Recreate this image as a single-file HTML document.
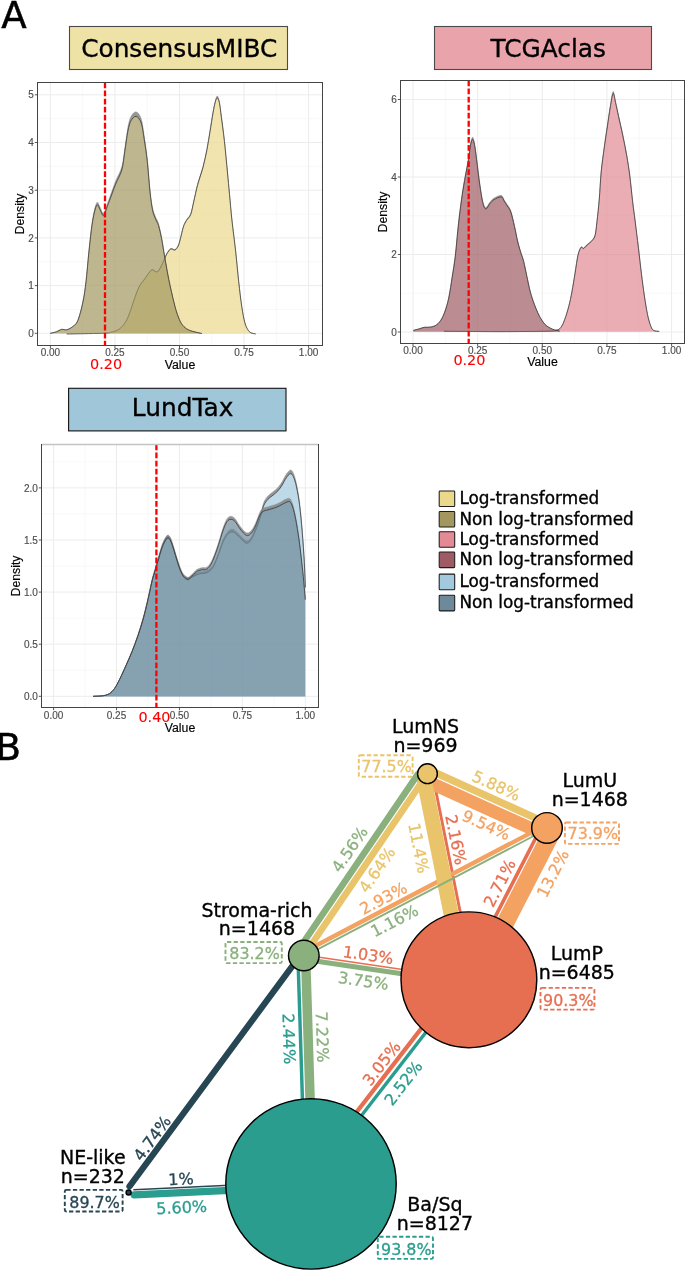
<!DOCTYPE html>
<html lang="en">
<head>
<meta charset="utf-8">
<title>Figure: classifier score densities and subtype network</title>
<style>
html,body{margin:0;padding:0;background:#fff;}
body{width:685px;height:1270px;overflow:hidden;}
svg{display:block;}
</style>
</head>
<body>
<svg width="685" height="1270" viewBox="0 0 685 1270">
<rect x="0" y="0" width="685" height="1270" fill="#fff"/>
<rect x="37.5" y="82.5" width="285" height="263" fill="#fff"/>
<line x1="82.67" y1="82.5" x2="82.67" y2="345.5" stroke="#f3f3f3" stroke-width="0.6"/>
<line x1="147.22" y1="82.5" x2="147.22" y2="345.5" stroke="#f3f3f3" stroke-width="0.6"/>
<line x1="211.78" y1="82.5" x2="211.78" y2="345.5" stroke="#f3f3f3" stroke-width="0.6"/>
<line x1="276.32" y1="82.5" x2="276.32" y2="345.5" stroke="#f3f3f3" stroke-width="0.6"/>
<line x1="50.4" y1="82.5" x2="50.4" y2="345.5" stroke="#ececec" stroke-width="1"/>
<line x1="114.95" y1="82.5" x2="114.95" y2="345.5" stroke="#ececec" stroke-width="1"/>
<line x1="179.5" y1="82.5" x2="179.5" y2="345.5" stroke="#ececec" stroke-width="1"/>
<line x1="244.05" y1="82.5" x2="244.05" y2="345.5" stroke="#ececec" stroke-width="1"/>
<line x1="308.6" y1="82.5" x2="308.6" y2="345.5" stroke="#ececec" stroke-width="1"/>
<line x1="37.5" y1="309.45" x2="322.5" y2="309.45" stroke="#f3f3f3" stroke-width="0.6"/>
<line x1="37.5" y1="261.75" x2="322.5" y2="261.75" stroke="#f3f3f3" stroke-width="0.6"/>
<line x1="37.5" y1="214.05" x2="322.5" y2="214.05" stroke="#f3f3f3" stroke-width="0.6"/>
<line x1="37.5" y1="166.35" x2="322.5" y2="166.35" stroke="#f3f3f3" stroke-width="0.6"/>
<line x1="37.5" y1="118.65" x2="322.5" y2="118.65" stroke="#f3f3f3" stroke-width="0.6"/>
<line x1="37.5" y1="333.3" x2="322.5" y2="333.3" stroke="#ececec" stroke-width="1"/>
<line x1="37.5" y1="285.6" x2="322.5" y2="285.6" stroke="#ececec" stroke-width="1"/>
<line x1="37.5" y1="237.9" x2="322.5" y2="237.9" stroke="#ececec" stroke-width="1"/>
<line x1="37.5" y1="190.2" x2="322.5" y2="190.2" stroke="#ececec" stroke-width="1"/>
<line x1="37.5" y1="142.5" x2="322.5" y2="142.5" stroke="#ececec" stroke-width="1"/>
<line x1="37.5" y1="94.8" x2="322.5" y2="94.8" stroke="#ececec" stroke-width="1"/>
<path d="M66.6,333.9C72.38,333.8 93.82,333.58 101.3,333.3C108.78,333.01 108.43,332.94 111.5,332.19C114.57,331.43 117.32,330.54 119.7,328.76C122.08,326.98 124.1,324.26 125.8,321.5C127.5,318.75 128.53,315.84 129.9,312.23C131.27,308.62 132.47,304.12 134,299.83C135.53,295.55 137.4,289.95 139.1,286.53C140.8,283.1 142.5,281.67 144.2,279.27C145.9,276.87 147.93,273.76 149.3,272.11C150.67,270.47 151.03,269.51 152.4,269.39C153.77,269.27 155.8,272.5 157.5,271.41C159.2,270.31 161.07,265.81 162.6,262.84C164.13,259.86 165.33,255.98 166.7,253.56C168.07,251.15 169.43,249.01 170.8,248.32C172.17,247.63 173.67,249.94 174.9,249.43C176.13,248.93 177.28,247.2 178.2,245.3C179.12,243.4 179.52,241.3 180.4,238.04C181.28,234.78 182.47,228.84 183.5,225.74C184.53,222.65 185.4,221.53 186.6,219.49C187.8,217.46 189.52,216.64 190.7,213.55C191.88,210.46 192.52,206.04 193.7,200.95C194.88,195.86 196.27,188.73 197.8,183C199.33,177.28 201.37,172.4 202.9,166.57C204.43,160.74 205.8,154.21 207,148.03C208.2,141.84 209.08,135.66 210.1,129.48C211.12,123.3 212.25,115.74 213.1,110.93C213.95,106.13 214.52,103.12 215.2,100.65C215.88,98.18 216.52,96.12 217.2,96.12C217.88,96.12 218.62,97.49 219.3,100.65C219.98,103.81 220.45,108.55 221.3,115.07C222.15,121.58 223.38,130.49 224.4,139.76C225.42,149.04 226.55,161.77 227.4,170.71C228.25,179.64 228.75,185.32 229.5,193.39C230.25,201.45 230.88,209.58 231.9,219.09C232.92,228.6 234.47,240.06 235.6,250.44C236.73,260.82 237.68,272.11 238.7,281.39C239.72,290.66 240.68,299.23 241.7,306.08C242.72,312.94 243.77,318.56 244.8,322.51C245.83,326.46 246.88,328.06 247.9,329.77C248.92,331.48 249.62,332.11 250.9,332.79C252.18,333.48 254.82,333.72 255.6,333.9L255.6,333.9C254.82,333.72 252.18,333.48 250.9,332.8C249.62,332.12 248.92,331.5 247.9,329.8C246.88,328.1 245.83,326.52 244.8,322.6C243.77,318.68 242.72,313.1 241.7,306.3C240.68,299.5 239.72,291 238.7,281.8C237.68,272.6 236.73,261.4 235.6,251.1C234.47,240.8 232.92,229.43 231.9,220C230.88,210.57 230.25,202.5 229.5,194.5C228.75,186.5 228.25,180.87 227.4,172C226.55,163.13 225.42,150.5 224.4,141.3C223.38,132.1 222.15,123.27 221.3,116.8C220.45,110.33 219.98,105.63 219.3,102.5C218.62,99.37 217.88,98 217.2,98C216.52,98 215.88,100.05 215.2,102.5C214.52,104.95 213.95,107.93 213.1,112.7C212.25,117.47 211.12,124.97 210.1,131.1C209.08,137.23 208.2,143.37 207,149.5C205.8,155.63 204.43,162.12 202.9,167.9C201.37,173.68 199.33,178.52 197.8,184.2C196.27,189.88 194.88,196.95 193.7,202C192.52,207.05 191.88,211.43 190.7,214.5C189.52,217.57 187.8,218.38 186.6,220.4C185.4,222.42 184.53,223.53 183.5,226.6C182.47,229.67 181.28,235.57 180.4,238.8C179.52,242.03 179.12,244.12 178.2,246C177.28,247.88 176.13,249.6 174.9,250.1C173.67,250.6 172.17,248.32 170.8,249C169.43,249.68 168.07,251.8 166.7,254.2C165.33,256.6 164.13,260.45 162.6,263.4C161.07,266.35 159.2,270.82 157.5,271.9C155.8,272.98 153.77,269.78 152.4,269.9C151.03,270.02 150.67,270.97 149.3,272.6C147.93,274.23 145.9,277.32 144.2,279.7C142.5,282.08 140.8,283.5 139.1,286.9C137.4,290.3 135.53,295.85 134,300.1C132.47,304.35 131.27,308.82 129.9,312.4C128.53,315.98 127.5,318.87 125.8,321.6C124.1,324.33 122.08,327.03 119.7,328.8C117.32,330.57 114.57,331.45 111.5,332.2C108.43,332.95 108.78,333.02 101.3,333.3C93.82,333.58 72.38,333.8 66.6,333.9Z" fill="#858585" fill-opacity="0.85" stroke="#858585" stroke-opacity="0.5" stroke-width="0.6"/>
<path d="M66.6,333.9C72.38,333.8 93.82,333.58 101.3,333.3C108.78,333.02 108.43,332.95 111.5,332.2C114.57,331.45 117.32,330.57 119.7,328.8C122.08,327.03 124.1,324.33 125.8,321.6C127.5,318.87 128.53,315.98 129.9,312.4C131.27,308.82 132.47,304.35 134,300.1C135.53,295.85 137.4,290.3 139.1,286.9C140.8,283.5 142.5,282.08 144.2,279.7C145.9,277.32 147.93,274.23 149.3,272.6C150.67,270.97 151.03,270.02 152.4,269.9C153.77,269.78 155.8,272.98 157.5,271.9C159.2,270.82 161.07,266.35 162.6,263.4C164.13,260.45 165.33,256.6 166.7,254.2C168.07,251.8 169.43,249.68 170.8,249C172.17,248.32 173.67,250.6 174.9,250.1C176.13,249.6 177.28,247.88 178.2,246C179.12,244.12 179.52,242.03 180.4,238.8C181.28,235.57 182.47,229.67 183.5,226.6C184.53,223.53 185.4,222.42 186.6,220.4C187.8,218.38 189.52,217.57 190.7,214.5C191.88,211.43 192.52,207.05 193.7,202C194.88,196.95 196.27,189.88 197.8,184.2C199.33,178.52 201.37,173.68 202.9,167.9C204.43,162.12 205.8,155.63 207,149.5C208.2,143.37 209.08,137.23 210.1,131.1C211.12,124.97 212.25,117.47 213.1,112.7C213.95,107.93 214.52,104.95 215.2,102.5C215.88,100.05 216.52,98 217.2,98C217.88,98 218.62,99.37 219.3,102.5C219.98,105.63 220.45,110.33 221.3,116.8C222.15,123.27 223.38,132.1 224.4,141.3C225.42,150.5 226.55,163.13 227.4,172C228.25,180.87 228.75,186.5 229.5,194.5C230.25,202.5 230.88,210.57 231.9,220C232.92,229.43 234.47,240.8 235.6,251.1C236.73,261.4 237.68,272.6 238.7,281.8C239.72,291 240.68,299.5 241.7,306.3C242.72,313.1 243.77,318.68 244.8,322.6C245.83,326.52 246.88,328.1 247.9,329.8C248.92,331.5 249.62,332.12 250.9,332.8C252.18,333.48 254.82,333.72 255.6,333.9L255.6,333.6 L66.6,333.6 Z" fill="#ebd98b" fill-opacity="0.7" stroke="none"/>
<path d="M66.6,333.9C72.38,333.8 93.82,333.58 101.3,333.3C108.78,333.02 108.43,332.95 111.5,332.2C114.57,331.45 117.32,330.57 119.7,328.8C122.08,327.03 124.1,324.33 125.8,321.6C127.5,318.87 128.53,315.98 129.9,312.4C131.27,308.82 132.47,304.35 134,300.1C135.53,295.85 137.4,290.3 139.1,286.9C140.8,283.5 142.5,282.08 144.2,279.7C145.9,277.32 147.93,274.23 149.3,272.6C150.67,270.97 151.03,270.02 152.4,269.9C153.77,269.78 155.8,272.98 157.5,271.9C159.2,270.82 161.07,266.35 162.6,263.4C164.13,260.45 165.33,256.6 166.7,254.2C168.07,251.8 169.43,249.68 170.8,249C172.17,248.32 173.67,250.6 174.9,250.1C176.13,249.6 177.28,247.88 178.2,246C179.12,244.12 179.52,242.03 180.4,238.8C181.28,235.57 182.47,229.67 183.5,226.6C184.53,223.53 185.4,222.42 186.6,220.4C187.8,218.38 189.52,217.57 190.7,214.5C191.88,211.43 192.52,207.05 193.7,202C194.88,196.95 196.27,189.88 197.8,184.2C199.33,178.52 201.37,173.68 202.9,167.9C204.43,162.12 205.8,155.63 207,149.5C208.2,143.37 209.08,137.23 210.1,131.1C211.12,124.97 212.25,117.47 213.1,112.7C213.95,107.93 214.52,104.95 215.2,102.5C215.88,100.05 216.52,98 217.2,98C217.88,98 218.62,99.37 219.3,102.5C219.98,105.63 220.45,110.33 221.3,116.8C222.15,123.27 223.38,132.1 224.4,141.3C225.42,150.5 226.55,163.13 227.4,172C228.25,180.87 228.75,186.5 229.5,194.5C230.25,202.5 230.88,210.57 231.9,220C232.92,229.43 234.47,240.8 235.6,251.1C236.73,261.4 237.68,272.6 238.7,281.8C239.72,291 240.68,299.5 241.7,306.3C242.72,313.1 243.77,318.68 244.8,322.6C245.83,326.52 246.88,328.1 247.9,329.8C248.92,331.5 249.62,332.12 250.9,332.8C252.18,333.48 254.82,333.72 255.6,333.9" fill="none" stroke="#2a2a2a" stroke-opacity="1.0" stroke-width="0.7" stroke-linejoin="round"/>
<path d="M50.2,333.29C51.23,333.04 54.52,332.43 56.4,331.76C58.28,331.1 59.8,329.65 61.5,329.31C63.2,328.97 64.73,330.18 66.6,329.72C68.47,329.26 70.83,328.12 72.7,326.56C74.57,324.99 76.1,324.5 77.8,320.33C79.5,316.16 81.53,308.14 82.9,301.54C84.27,294.94 84.98,289.41 86,280.71C87.02,272.02 87.98,259.12 89,249.37C90.02,239.62 91.07,229.34 92.1,222.21C93.13,215.08 94.28,209.92 95.2,206.59C96.12,203.25 96.75,202.03 97.6,202.2C98.45,202.37 99.3,205.79 100.3,207.61C101.3,209.43 102.42,213.82 103.6,213.12C104.78,212.42 106.42,205.97 107.4,203.42C108.38,200.87 108.13,201.53 109.5,197.81C110.87,194.08 113.55,186.29 115.6,181.06C117.65,175.84 120.27,172.03 121.8,166.46C123.33,160.9 123.78,154.28 124.8,147.68C125.82,141.07 126.88,132.05 127.9,126.85C128.92,121.64 129.53,118.93 130.9,116.43C132.27,113.93 134.38,111.5 136.1,111.84C137.82,112.18 139.85,114.58 141.2,118.48C142.55,122.37 143.18,128.62 144.2,135.22C145.22,141.82 146.33,149.12 147.3,158.09C148.27,167.06 149.12,180.74 150,189.03C150.88,197.31 151.63,203.12 152.6,207.81C153.57,212.51 154.82,214.64 155.8,217.21C156.78,219.78 157.53,219.96 158.5,223.23C159.47,226.5 160.57,231.41 161.6,236.81C162.63,242.2 163.5,248.64 164.7,255.6C165.9,262.56 167.27,270.91 168.8,278.57C170.33,286.23 172.47,295.62 173.9,301.54C175.33,307.46 176.13,310.44 177.4,314.1C178.67,317.76 179.97,321.06 181.5,323.49C183.03,325.93 184.73,327.39 186.6,328.7C188.47,330.01 190.15,330.55 192.7,331.35C195.25,332.15 200.37,333.14 201.9,333.5L201.9,333.5C200.37,333.15 195.25,332.18 192.7,331.4C190.15,330.62 188.47,330.08 186.6,328.8C184.73,327.52 183.03,326.08 181.5,323.7C179.97,321.32 178.67,318.08 177.4,314.5C176.13,310.92 175.33,308 173.9,302.2C172.47,296.4 170.33,287.2 168.8,279.7C167.27,272.2 165.9,264.02 164.7,257.2C163.5,250.38 162.63,244.08 161.6,238.8C160.57,233.52 159.47,228.7 158.5,225.5C157.53,222.3 156.78,222.12 155.8,219.6C154.82,217.08 153.57,215 152.6,210.4C151.63,205.8 150.88,200.12 150,192C149.12,183.88 148.27,170.48 147.3,161.7C146.33,152.92 145.22,145.77 144.2,139.3C143.18,132.83 142.55,126.72 141.2,122.9C139.85,119.08 137.82,116.73 136.1,116.4C134.38,116.07 132.27,118.45 130.9,120.9C129.53,123.35 128.92,126 127.9,131.1C126.88,136.2 125.82,145.03 124.8,151.5C123.78,157.97 123.33,164.45 121.8,169.9C120.27,175.35 117.65,179.08 115.6,184.2C113.55,189.32 110.87,196.95 109.5,200.6C108.13,204.25 108.38,203.6 107.4,206.1C106.42,208.6 104.78,214.92 103.6,215.6C102.42,216.28 101.3,211.98 100.3,210.2C99.3,208.42 98.45,205.07 97.6,204.9C96.75,204.73 96.12,205.93 95.2,209.2C94.28,212.47 93.13,217.52 92.1,224.5C91.07,231.48 90.02,241.55 89,251.1C87.98,260.65 87.02,273.28 86,281.8C84.98,290.32 84.27,295.73 82.9,302.2C81.53,308.67 79.5,316.52 77.8,320.6C76.1,324.68 74.57,325.17 72.7,326.7C70.83,328.23 68.47,329.35 66.6,329.8C64.73,330.25 63.2,329.07 61.5,329.4C59.8,329.73 58.28,331.15 56.4,331.8C54.52,332.45 51.23,333.05 50.2,333.3Z" fill="#858585" fill-opacity="0.85" stroke="#858585" stroke-opacity="0.5" stroke-width="0.6"/>
<path d="M50.2,333.3C51.23,333.05 54.52,332.45 56.4,331.8C58.28,331.15 59.8,329.73 61.5,329.4C63.2,329.07 64.73,330.25 66.6,329.8C68.47,329.35 70.83,328.23 72.7,326.7C74.57,325.17 76.1,324.68 77.8,320.6C79.5,316.52 81.53,308.67 82.9,302.2C84.27,295.73 84.98,290.32 86,281.8C87.02,273.28 87.98,260.65 89,251.1C90.02,241.55 91.07,231.48 92.1,224.5C93.13,217.52 94.28,212.47 95.2,209.2C96.12,205.93 96.75,204.73 97.6,204.9C98.45,205.07 99.3,208.42 100.3,210.2C101.3,211.98 102.42,216.28 103.6,215.6C104.78,214.92 106.42,208.6 107.4,206.1C108.38,203.6 108.13,204.25 109.5,200.6C110.87,196.95 113.55,189.32 115.6,184.2C117.65,179.08 120.27,175.35 121.8,169.9C123.33,164.45 123.78,157.97 124.8,151.5C125.82,145.03 126.88,136.2 127.9,131.1C128.92,126 129.53,123.35 130.9,120.9C132.27,118.45 134.38,116.07 136.1,116.4C137.82,116.73 139.85,119.08 141.2,122.9C142.55,126.72 143.18,132.83 144.2,139.3C145.22,145.77 146.33,152.92 147.3,161.7C148.27,170.48 149.12,183.88 150,192C150.88,200.12 151.63,205.8 152.6,210.4C153.57,215 154.82,217.08 155.8,219.6C156.78,222.12 157.53,222.3 158.5,225.5C159.47,228.7 160.57,233.52 161.6,238.8C162.63,244.08 163.5,250.38 164.7,257.2C165.9,264.02 167.27,272.2 168.8,279.7C170.33,287.2 172.47,296.4 173.9,302.2C175.33,308 176.13,310.92 177.4,314.5C178.67,318.08 179.97,321.32 181.5,323.7C183.03,326.08 184.73,327.52 186.6,328.8C188.47,330.08 190.15,330.62 192.7,331.4C195.25,332.18 200.37,333.15 201.9,333.5L201.9,333.6 L50.2,333.6 Z" fill="#a3975f" fill-opacity="0.7" stroke="none"/>
<path d="M50.2,333.3C51.23,333.05 54.52,332.45 56.4,331.8C58.28,331.15 59.8,329.73 61.5,329.4C63.2,329.07 64.73,330.25 66.6,329.8C68.47,329.35 70.83,328.23 72.7,326.7C74.57,325.17 76.1,324.68 77.8,320.6C79.5,316.52 81.53,308.67 82.9,302.2C84.27,295.73 84.98,290.32 86,281.8C87.02,273.28 87.98,260.65 89,251.1C90.02,241.55 91.07,231.48 92.1,224.5C93.13,217.52 94.28,212.47 95.2,209.2C96.12,205.93 96.75,204.73 97.6,204.9C98.45,205.07 99.3,208.42 100.3,210.2C101.3,211.98 102.42,216.28 103.6,215.6C104.78,214.92 106.42,208.6 107.4,206.1C108.38,203.6 108.13,204.25 109.5,200.6C110.87,196.95 113.55,189.32 115.6,184.2C117.65,179.08 120.27,175.35 121.8,169.9C123.33,164.45 123.78,157.97 124.8,151.5C125.82,145.03 126.88,136.2 127.9,131.1C128.92,126 129.53,123.35 130.9,120.9C132.27,118.45 134.38,116.07 136.1,116.4C137.82,116.73 139.85,119.08 141.2,122.9C142.55,126.72 143.18,132.83 144.2,139.3C145.22,145.77 146.33,152.92 147.3,161.7C148.27,170.48 149.12,183.88 150,192C150.88,200.12 151.63,205.8 152.6,210.4C153.57,215 154.82,217.08 155.8,219.6C156.78,222.12 157.53,222.3 158.5,225.5C159.47,228.7 160.57,233.52 161.6,238.8C162.63,244.08 163.5,250.38 164.7,257.2C165.9,264.02 167.27,272.2 168.8,279.7C170.33,287.2 172.47,296.4 173.9,302.2C175.33,308 176.13,310.92 177.4,314.5C178.67,318.08 179.97,321.32 181.5,323.7C183.03,326.08 184.73,327.52 186.6,328.8C188.47,330.08 190.15,330.62 192.7,331.4C195.25,332.18 200.37,333.15 201.9,333.5" fill="none" stroke="#2a2a2a" stroke-opacity="1.0" stroke-width="0.7" stroke-linejoin="round"/>
<line x1="105" y1="82.5" x2="105" y2="345.5" stroke="#ff0000" stroke-width="2.3" stroke-dasharray="5.8,2.27"/>
<rect x="37.5" y="82.5" width="285" height="263" fill="none" stroke="#444" stroke-width="1"/>
<line x1="50.4" y1="345.5" x2="50.4" y2="348.2" stroke="#444" stroke-width="0.9"/>
<text x="50.4" y="356.3" text-anchor="middle" font-family='"Liberation Sans", "DejaVu Sans", sans-serif' font-size="10" fill="#4d4d4d" stroke="#4d4d4d" stroke-width="0.15">0.00</text>
<line x1="114.95" y1="345.5" x2="114.95" y2="348.2" stroke="#444" stroke-width="0.9"/>
<text x="114.95" y="356.3" text-anchor="middle" font-family='"Liberation Sans", "DejaVu Sans", sans-serif' font-size="10" fill="#4d4d4d" stroke="#4d4d4d" stroke-width="0.15">0.25</text>
<line x1="179.5" y1="345.5" x2="179.5" y2="348.2" stroke="#444" stroke-width="0.9"/>
<text x="179.5" y="356.3" text-anchor="middle" font-family='"Liberation Sans", "DejaVu Sans", sans-serif' font-size="10" fill="#4d4d4d" stroke="#4d4d4d" stroke-width="0.15">0.50</text>
<line x1="244.05" y1="345.5" x2="244.05" y2="348.2" stroke="#444" stroke-width="0.9"/>
<text x="244.05" y="356.3" text-anchor="middle" font-family='"Liberation Sans", "DejaVu Sans", sans-serif' font-size="10" fill="#4d4d4d" stroke="#4d4d4d" stroke-width="0.15">0.75</text>
<line x1="308.6" y1="345.5" x2="308.6" y2="348.2" stroke="#444" stroke-width="0.9"/>
<text x="308.6" y="356.3" text-anchor="middle" font-family='"Liberation Sans", "DejaVu Sans", sans-serif' font-size="10" fill="#4d4d4d" stroke="#4d4d4d" stroke-width="0.15">1.00</text>
<line x1="34.8" y1="333.3" x2="37.5" y2="333.3" stroke="#444" stroke-width="0.9"/>
<text x="33.9" y="336.9" text-anchor="end" font-family='"Liberation Sans", "DejaVu Sans", sans-serif' font-size="10" fill="#4d4d4d" stroke="#4d4d4d" stroke-width="0.15">0</text>
<line x1="34.8" y1="285.6" x2="37.5" y2="285.6" stroke="#444" stroke-width="0.9"/>
<text x="33.9" y="289.2" text-anchor="end" font-family='"Liberation Sans", "DejaVu Sans", sans-serif' font-size="10" fill="#4d4d4d" stroke="#4d4d4d" stroke-width="0.15">1</text>
<line x1="34.8" y1="237.9" x2="37.5" y2="237.9" stroke="#444" stroke-width="0.9"/>
<text x="33.9" y="241.5" text-anchor="end" font-family='"Liberation Sans", "DejaVu Sans", sans-serif' font-size="10" fill="#4d4d4d" stroke="#4d4d4d" stroke-width="0.15">2</text>
<line x1="34.8" y1="190.2" x2="37.5" y2="190.2" stroke="#444" stroke-width="0.9"/>
<text x="33.9" y="193.8" text-anchor="end" font-family='"Liberation Sans", "DejaVu Sans", sans-serif' font-size="10" fill="#4d4d4d" stroke="#4d4d4d" stroke-width="0.15">3</text>
<line x1="34.8" y1="142.5" x2="37.5" y2="142.5" stroke="#444" stroke-width="0.9"/>
<text x="33.9" y="146.1" text-anchor="end" font-family='"Liberation Sans", "DejaVu Sans", sans-serif' font-size="10" fill="#4d4d4d" stroke="#4d4d4d" stroke-width="0.15">4</text>
<line x1="34.8" y1="94.8" x2="37.5" y2="94.8" stroke="#444" stroke-width="0.9"/>
<text x="33.9" y="98.4" text-anchor="end" font-family='"Liberation Sans", "DejaVu Sans", sans-serif' font-size="10" fill="#4d4d4d" stroke="#4d4d4d" stroke-width="0.15">5</text>
<text x="180" y="368.9" text-anchor="middle" font-family='"Liberation Sans", "DejaVu Sans", sans-serif' font-size="12.3" fill="#000" stroke="#000" stroke-width="0.15">Value</text>
<text transform="translate(24.4,214) rotate(-90)" text-anchor="middle" font-family='"Liberation Sans", "DejaVu Sans", sans-serif' font-size="12.3" fill="#000" stroke="#000" stroke-width="0.15">Density</text>
<text x="106.1" y="369.1" text-anchor="middle" font-family='"DejaVu Sans", "Liberation Sans", sans-serif' font-size="14.4" fill="#ff0000" stroke="#ff0000" stroke-width="0.12">0.20</text>
<rect x="69.5" y="26.5" width="218" height="43" fill="#efe2a6" stroke="#4a4a4a" stroke-width="1.1"/>
<text x="179.3" y="57.1" text-anchor="middle" font-family='"DejaVu Sans", "Liberation Sans", sans-serif' font-size="24.8" fill="#000" stroke="#000" stroke-width="0.35">ConsensusMIBC</text>
<rect x="400.5" y="80.5" width="284" height="263" fill="#fff"/>
<line x1="445.32" y1="80.5" x2="445.32" y2="343.5" stroke="#f3f3f3" stroke-width="0.6"/>
<line x1="509.98" y1="80.5" x2="509.98" y2="343.5" stroke="#f3f3f3" stroke-width="0.6"/>
<line x1="574.62" y1="80.5" x2="574.62" y2="343.5" stroke="#f3f3f3" stroke-width="0.6"/>
<line x1="639.28" y1="80.5" x2="639.28" y2="343.5" stroke="#f3f3f3" stroke-width="0.6"/>
<line x1="413" y1="80.5" x2="413" y2="343.5" stroke="#ececec" stroke-width="1"/>
<line x1="477.65" y1="80.5" x2="477.65" y2="343.5" stroke="#ececec" stroke-width="1"/>
<line x1="542.3" y1="80.5" x2="542.3" y2="343.5" stroke="#ececec" stroke-width="1"/>
<line x1="606.95" y1="80.5" x2="606.95" y2="343.5" stroke="#ececec" stroke-width="1"/>
<line x1="671.6" y1="80.5" x2="671.6" y2="343.5" stroke="#ececec" stroke-width="1"/>
<line x1="400.5" y1="293.25" x2="684.5" y2="293.25" stroke="#f3f3f3" stroke-width="0.6"/>
<line x1="400.5" y1="215.75" x2="684.5" y2="215.75" stroke="#f3f3f3" stroke-width="0.6"/>
<line x1="400.5" y1="138.25" x2="684.5" y2="138.25" stroke="#f3f3f3" stroke-width="0.6"/>
<line x1="400.5" y1="332" x2="684.5" y2="332" stroke="#ececec" stroke-width="1"/>
<line x1="400.5" y1="254.5" x2="684.5" y2="254.5" stroke="#ececec" stroke-width="1"/>
<line x1="400.5" y1="177" x2="684.5" y2="177" stroke="#ececec" stroke-width="1"/>
<line x1="400.5" y1="99.5" x2="684.5" y2="99.5" stroke="#ececec" stroke-width="1"/>
<path d="M443.9,331.2C453.25,331.26 483.15,331.6 500,331.6C516.85,331.6 535.75,331.4 545,331.2C554.25,330.99 552.88,330.98 555.5,330.39C558.12,329.8 559.17,329.48 560.7,327.67C562.23,325.85 563.35,323.1 564.7,319.5C566.05,315.91 567.6,310.73 568.8,306.1C570,301.46 570.87,297.18 571.9,291.68C572.93,286.19 573.98,279.32 575,273.14C576.02,266.95 576.98,258.99 578,254.59C579.02,250.19 580.18,247.83 581.1,246.73C582.02,245.62 582.48,248.34 583.5,247.94C584.52,247.53 585.9,245.5 587.2,244.31C588.5,243.11 590,242.32 591.3,240.78C592.6,239.23 594.05,238.39 595,235.03C595.95,231.67 596.28,226.8 597,220.62C597.72,214.44 598.6,206.25 599.3,197.94C600,189.62 600.37,179.39 601.2,170.72C602.03,162.05 603.28,153.49 604.3,145.93C605.32,138.37 606.28,132.22 607.3,125.36C608.32,118.51 609.43,110.46 610.4,104.8C611.37,99.14 612.25,92.08 613.1,91.39C613.95,90.7 614.58,96.72 615.5,100.67C616.42,104.61 617.4,109.59 618.6,115.08C619.8,120.57 621.35,127.11 622.7,133.63C624.05,140.15 625.52,147.32 626.7,154.19C627.88,161.06 628.82,167.14 629.8,174.86C630.78,182.57 631.72,192.92 632.6,200.46C633.48,208 634.15,212.47 635.1,220.11C636.05,227.76 637.25,237.49 638.3,246.32C639.35,255.16 640.38,264.89 641.4,273.14C642.42,281.38 643.38,288.94 644.4,295.82C645.42,302.69 646.47,309.39 647.5,314.36C648.53,319.34 649.58,322.98 650.6,325.65C651.62,328.32 652.17,329.43 653.6,330.39C655.03,331.35 658.27,331.23 659.2,331.4L659.2,331.4C658.27,331.23 655.03,331.35 653.6,330.4C652.17,329.45 651.62,328.35 650.6,325.7C649.58,323.05 648.53,319.43 647.5,314.5C646.47,309.57 645.42,302.92 644.4,296.1C643.38,289.28 642.42,281.78 641.4,273.6C640.38,265.42 639.35,255.77 638.3,247C637.25,238.23 636.05,228.58 635.1,221C634.15,213.42 633.48,208.98 632.6,201.5C631.72,194.02 630.78,183.75 629.8,176.1C628.82,168.45 627.88,162.42 626.7,155.6C625.52,148.78 624.05,141.67 622.7,135.2C621.35,128.73 619.8,122.25 618.6,116.8C617.4,111.35 616.42,106.42 615.5,102.5C614.58,98.58 613.95,92.62 613.1,93.3C612.25,93.98 611.37,100.98 610.4,106.6C609.43,112.22 608.32,120.2 607.3,127C606.28,133.8 605.32,139.9 604.3,147.4C603.28,154.9 602.03,163.4 601.2,172C600.37,180.6 600,190.75 599.3,199C598.6,207.25 597.72,215.37 597,221.5C596.28,227.63 595.95,232.47 595,235.8C594.05,239.13 592.6,239.97 591.3,241.5C590,243.03 588.5,243.82 587.2,245C585.9,246.18 584.52,248.2 583.5,248.6C582.48,249 582.02,246.3 581.1,247.4C580.18,248.5 579.02,250.83 578,255.2C576.98,259.57 576.02,267.47 575,273.6C573.98,279.73 572.93,286.55 571.9,292C570.87,297.45 570,301.7 568.8,306.3C567.6,310.9 566.05,316.03 564.7,319.6C563.35,323.17 562.23,325.9 560.7,327.7C559.17,329.5 558.12,329.82 555.5,330.4C552.88,330.98 554.25,331 545,331.2C535.75,331.4 516.85,331.6 500,331.6C483.15,331.6 453.25,331.27 443.9,331.2Z" fill="#858585" fill-opacity="0.85" stroke="#858585" stroke-opacity="0.5" stroke-width="0.6"/>
<path d="M443.9,331.2C453.25,331.27 483.15,331.6 500,331.6C516.85,331.6 535.75,331.4 545,331.2C554.25,331 552.88,330.98 555.5,330.4C558.12,329.82 559.17,329.5 560.7,327.7C562.23,325.9 563.35,323.17 564.7,319.6C566.05,316.03 567.6,310.9 568.8,306.3C570,301.7 570.87,297.45 571.9,292C572.93,286.55 573.98,279.73 575,273.6C576.02,267.47 576.98,259.57 578,255.2C579.02,250.83 580.18,248.5 581.1,247.4C582.02,246.3 582.48,249 583.5,248.6C584.52,248.2 585.9,246.18 587.2,245C588.5,243.82 590,243.03 591.3,241.5C592.6,239.97 594.05,239.13 595,235.8C595.95,232.47 596.28,227.63 597,221.5C597.72,215.37 598.6,207.25 599.3,199C600,190.75 600.37,180.6 601.2,172C602.03,163.4 603.28,154.9 604.3,147.4C605.32,139.9 606.28,133.8 607.3,127C608.32,120.2 609.43,112.22 610.4,106.6C611.37,100.98 612.25,93.98 613.1,93.3C613.95,92.62 614.58,98.58 615.5,102.5C616.42,106.42 617.4,111.35 618.6,116.8C619.8,122.25 621.35,128.73 622.7,135.2C624.05,141.67 625.52,148.78 626.7,155.6C627.88,162.42 628.82,168.45 629.8,176.1C630.78,183.75 631.72,194.02 632.6,201.5C633.48,208.98 634.15,213.42 635.1,221C636.05,228.58 637.25,238.23 638.3,247C639.35,255.77 640.38,265.42 641.4,273.6C642.42,281.78 643.38,289.28 644.4,296.1C645.42,302.92 646.47,309.57 647.5,314.5C648.53,319.43 649.58,323.05 650.6,325.7C651.62,328.35 652.17,329.45 653.6,330.4C655.03,331.35 658.27,331.23 659.2,331.4L659.2,331.7 L443.9,331.7 Z" fill="#e38a94" fill-opacity="0.7" stroke="none"/>
<path d="M443.9,331.2C453.25,331.27 483.15,331.6 500,331.6C516.85,331.6 535.75,331.4 545,331.2C554.25,331 552.88,330.98 555.5,330.4C558.12,329.82 559.17,329.5 560.7,327.7C562.23,325.9 563.35,323.17 564.7,319.6C566.05,316.03 567.6,310.9 568.8,306.3C570,301.7 570.87,297.45 571.9,292C572.93,286.55 573.98,279.73 575,273.6C576.02,267.47 576.98,259.57 578,255.2C579.02,250.83 580.18,248.5 581.1,247.4C582.02,246.3 582.48,249 583.5,248.6C584.52,248.2 585.9,246.18 587.2,245C588.5,243.82 590,243.03 591.3,241.5C592.6,239.97 594.05,239.13 595,235.8C595.95,232.47 596.28,227.63 597,221.5C597.72,215.37 598.6,207.25 599.3,199C600,190.75 600.37,180.6 601.2,172C602.03,163.4 603.28,154.9 604.3,147.4C605.32,139.9 606.28,133.8 607.3,127C608.32,120.2 609.43,112.22 610.4,106.6C611.37,100.98 612.25,93.98 613.1,93.3C613.95,92.62 614.58,98.58 615.5,102.5C616.42,106.42 617.4,111.35 618.6,116.8C619.8,122.25 621.35,128.73 622.7,135.2C624.05,141.67 625.52,148.78 626.7,155.6C627.88,162.42 628.82,168.45 629.8,176.1C630.78,183.75 631.72,194.02 632.6,201.5C633.48,208.98 634.15,213.42 635.1,221C636.05,228.58 637.25,238.23 638.3,247C639.35,255.77 640.38,265.42 641.4,273.6C642.42,281.78 643.38,289.28 644.4,296.1C645.42,302.92 646.47,309.57 647.5,314.5C648.53,319.43 649.58,323.05 650.6,325.7C651.62,328.35 652.17,329.45 653.6,330.4C655.03,331.35 658.27,331.23 659.2,331.4" fill="none" stroke="#2a2a2a" stroke-opacity="1.0" stroke-width="0.7" stroke-linejoin="round"/>
<path d="M413.3,330.38C414.32,330.11 417.53,329.29 419.4,328.77C421.27,328.24 422.62,327.53 424.5,327.25C426.38,326.96 428.65,327.48 430.7,327.04C432.75,326.61 434.93,326.07 436.8,324.62C438.67,323.17 440.37,321.11 441.9,318.34C443.43,315.58 444.8,311.8 446,308.02C447.2,304.24 448.08,300.83 449.1,295.67C450.12,290.51 451.08,283.61 452.1,277.05C453.12,270.49 454.35,263.2 455.2,256.31C456.05,249.41 456.52,242.44 457.2,235.66C457.88,228.88 458.45,222.78 459.3,215.62C460.15,208.47 461.28,199.65 462.3,192.75C463.32,185.85 464.37,180.09 465.4,174.23C466.43,168.38 467.65,162.81 468.5,157.64C469.35,152.46 469.82,146.61 470.5,143.16C471.18,139.72 471.92,136.99 472.6,136.99C473.28,136.99 473.93,139.72 474.6,143.16C475.27,146.61 475.75,151.09 476.6,157.64C477.45,164.18 478.67,175.19 479.7,182.43C480.73,189.67 481.78,196.88 482.8,201.05C483.82,205.22 484.62,207.26 485.8,207.43C486.98,207.6 488.53,203.63 489.9,202.06C491.27,200.49 492.12,199.14 494,198.01C495.88,196.88 499.5,195.01 501.2,195.28C502.9,195.55 503.18,198.1 504.2,199.63C505.22,201.17 506.2,202.67 507.3,204.49C508.4,206.31 509.6,207.09 510.8,210.56C512,214.04 513.38,220.46 514.5,225.34C515.62,230.21 516.48,235.51 517.5,239.81C518.52,244.11 519.58,247.7 520.6,251.14C521.62,254.59 522.58,256.49 523.6,260.46C524.62,264.42 525.67,270.1 526.7,274.93C527.73,279.75 528.78,285.27 529.8,289.4C530.82,293.53 531.78,296.62 532.8,299.72C533.82,302.82 534.77,305.25 535.9,308.02C537.03,310.79 538.03,313.55 539.6,316.32C541.17,319.08 543.15,322.47 545.3,324.62C547.45,326.76 550.12,328.11 552.5,329.17C554.88,330.23 558.42,330.69 559.6,330.99L559.6,331C558.42,330.7 554.88,330.25 552.5,329.2C550.12,328.15 547.45,326.82 545.3,324.7C543.15,322.58 541.17,319.23 539.6,316.5C538.03,313.77 537.03,311.03 535.9,308.3C534.77,305.57 533.82,303.17 532.8,300.1C531.78,297.03 530.82,293.98 529.8,289.9C528.78,285.82 527.73,280.37 526.7,275.6C525.67,270.83 524.62,265.22 523.6,261.3C522.58,257.38 521.62,255.5 520.6,252.1C519.58,248.7 518.52,245.15 517.5,240.9C516.48,236.65 515.62,231.42 514.5,226.6C513.38,221.78 512,215.43 510.8,212C509.6,208.57 508.4,207.8 507.3,206C506.2,204.2 505.22,202.72 504.2,201.2C503.18,199.68 502.9,197.17 501.2,196.9C499.5,196.63 495.88,198.48 494,199.6C492.12,200.72 491.27,202.05 489.9,203.6C488.53,205.15 486.98,209.07 485.8,208.9C484.62,208.73 483.82,206.72 482.8,202.6C481.78,198.48 480.73,191.35 479.7,184.2C478.67,177.05 477.45,166.17 476.6,159.7C475.75,153.23 475.27,148.8 474.6,145.4C473.93,142 473.28,139.3 472.6,139.3C471.92,139.3 471.18,142 470.5,145.4C469.82,148.8 469.35,154.58 468.5,159.7C467.65,164.82 466.43,170.32 465.4,176.1C464.37,181.88 463.32,187.58 462.3,194.4C461.28,201.22 460.15,209.93 459.3,217C458.45,224.07 457.88,230.1 457.2,236.8C456.52,243.5 456.05,250.38 455.2,257.2C454.35,264.02 453.12,271.22 452.1,277.7C451.08,284.18 450.12,291 449.1,296.1C448.08,301.2 447.2,304.57 446,308.3C444.8,312.03 443.43,315.77 441.9,318.5C440.37,321.23 438.67,323.27 436.8,324.7C434.93,326.13 432.75,326.67 430.7,327.1C428.65,327.53 426.38,327.02 424.5,327.3C422.62,327.58 421.27,328.28 419.4,328.8C417.53,329.32 414.32,330.13 413.3,330.4Z" fill="#858585" fill-opacity="0.85" stroke="#858585" stroke-opacity="0.5" stroke-width="0.6"/>
<path d="M413.3,330.4C414.32,330.13 417.53,329.32 419.4,328.8C421.27,328.28 422.62,327.58 424.5,327.3C426.38,327.02 428.65,327.53 430.7,327.1C432.75,326.67 434.93,326.13 436.8,324.7C438.67,323.27 440.37,321.23 441.9,318.5C443.43,315.77 444.8,312.03 446,308.3C447.2,304.57 448.08,301.2 449.1,296.1C450.12,291 451.08,284.18 452.1,277.7C453.12,271.22 454.35,264.02 455.2,257.2C456.05,250.38 456.52,243.5 457.2,236.8C457.88,230.1 458.45,224.07 459.3,217C460.15,209.93 461.28,201.22 462.3,194.4C463.32,187.58 464.37,181.88 465.4,176.1C466.43,170.32 467.65,164.82 468.5,159.7C469.35,154.58 469.82,148.8 470.5,145.4C471.18,142 471.92,139.3 472.6,139.3C473.28,139.3 473.93,142 474.6,145.4C475.27,148.8 475.75,153.23 476.6,159.7C477.45,166.17 478.67,177.05 479.7,184.2C480.73,191.35 481.78,198.48 482.8,202.6C483.82,206.72 484.62,208.73 485.8,208.9C486.98,209.07 488.53,205.15 489.9,203.6C491.27,202.05 492.12,200.72 494,199.6C495.88,198.48 499.5,196.63 501.2,196.9C502.9,197.17 503.18,199.68 504.2,201.2C505.22,202.72 506.2,204.2 507.3,206C508.4,207.8 509.6,208.57 510.8,212C512,215.43 513.38,221.78 514.5,226.6C515.62,231.42 516.48,236.65 517.5,240.9C518.52,245.15 519.58,248.7 520.6,252.1C521.62,255.5 522.58,257.38 523.6,261.3C524.62,265.22 525.67,270.83 526.7,275.6C527.73,280.37 528.78,285.82 529.8,289.9C530.82,293.98 531.78,297.03 532.8,300.1C533.82,303.17 534.77,305.57 535.9,308.3C537.03,311.03 538.03,313.77 539.6,316.5C541.17,319.23 543.15,322.58 545.3,324.7C547.45,326.82 550.12,328.15 552.5,329.2C554.88,330.25 558.42,330.7 559.6,331L559.6,331.7 L413.3,331.7 Z" fill="#9e5b63" fill-opacity="0.7" stroke="none"/>
<path d="M413.3,330.4C414.32,330.13 417.53,329.32 419.4,328.8C421.27,328.28 422.62,327.58 424.5,327.3C426.38,327.02 428.65,327.53 430.7,327.1C432.75,326.67 434.93,326.13 436.8,324.7C438.67,323.27 440.37,321.23 441.9,318.5C443.43,315.77 444.8,312.03 446,308.3C447.2,304.57 448.08,301.2 449.1,296.1C450.12,291 451.08,284.18 452.1,277.7C453.12,271.22 454.35,264.02 455.2,257.2C456.05,250.38 456.52,243.5 457.2,236.8C457.88,230.1 458.45,224.07 459.3,217C460.15,209.93 461.28,201.22 462.3,194.4C463.32,187.58 464.37,181.88 465.4,176.1C466.43,170.32 467.65,164.82 468.5,159.7C469.35,154.58 469.82,148.8 470.5,145.4C471.18,142 471.92,139.3 472.6,139.3C473.28,139.3 473.93,142 474.6,145.4C475.27,148.8 475.75,153.23 476.6,159.7C477.45,166.17 478.67,177.05 479.7,184.2C480.73,191.35 481.78,198.48 482.8,202.6C483.82,206.72 484.62,208.73 485.8,208.9C486.98,209.07 488.53,205.15 489.9,203.6C491.27,202.05 492.12,200.72 494,199.6C495.88,198.48 499.5,196.63 501.2,196.9C502.9,197.17 503.18,199.68 504.2,201.2C505.22,202.72 506.2,204.2 507.3,206C508.4,207.8 509.6,208.57 510.8,212C512,215.43 513.38,221.78 514.5,226.6C515.62,231.42 516.48,236.65 517.5,240.9C518.52,245.15 519.58,248.7 520.6,252.1C521.62,255.5 522.58,257.38 523.6,261.3C524.62,265.22 525.67,270.83 526.7,275.6C527.73,280.37 528.78,285.82 529.8,289.9C530.82,293.98 531.78,297.03 532.8,300.1C533.82,303.17 534.77,305.57 535.9,308.3C537.03,311.03 538.03,313.77 539.6,316.5C541.17,319.23 543.15,322.58 545.3,324.7C547.45,326.82 550.12,328.15 552.5,329.2C554.88,330.25 558.42,330.7 559.6,331" fill="none" stroke="#2a2a2a" stroke-opacity="1.0" stroke-width="0.7" stroke-linejoin="round"/>
<line x1="468.7" y1="80.5" x2="468.7" y2="343.5" stroke="#ff0000" stroke-width="2.3" stroke-dasharray="5.8,2.27"/>
<rect x="400.5" y="80.5" width="284" height="263" fill="none" stroke="#444" stroke-width="1"/>
<line x1="413" y1="343.5" x2="413" y2="346.2" stroke="#444" stroke-width="0.9"/>
<text x="413" y="353.8" text-anchor="middle" font-family='"Liberation Sans", "DejaVu Sans", sans-serif' font-size="10" fill="#4d4d4d" stroke="#4d4d4d" stroke-width="0.15">0.00</text>
<line x1="477.65" y1="343.5" x2="477.65" y2="346.2" stroke="#444" stroke-width="0.9"/>
<text x="477.65" y="353.8" text-anchor="middle" font-family='"Liberation Sans", "DejaVu Sans", sans-serif' font-size="10" fill="#4d4d4d" stroke="#4d4d4d" stroke-width="0.15">0.25</text>
<line x1="542.3" y1="343.5" x2="542.3" y2="346.2" stroke="#444" stroke-width="0.9"/>
<text x="542.3" y="353.8" text-anchor="middle" font-family='"Liberation Sans", "DejaVu Sans", sans-serif' font-size="10" fill="#4d4d4d" stroke="#4d4d4d" stroke-width="0.15">0.50</text>
<line x1="606.95" y1="343.5" x2="606.95" y2="346.2" stroke="#444" stroke-width="0.9"/>
<text x="606.95" y="353.8" text-anchor="middle" font-family='"Liberation Sans", "DejaVu Sans", sans-serif' font-size="10" fill="#4d4d4d" stroke="#4d4d4d" stroke-width="0.15">0.75</text>
<line x1="671.6" y1="343.5" x2="671.6" y2="346.2" stroke="#444" stroke-width="0.9"/>
<text x="671.6" y="353.8" text-anchor="middle" font-family='"Liberation Sans", "DejaVu Sans", sans-serif' font-size="10" fill="#4d4d4d" stroke="#4d4d4d" stroke-width="0.15">1.00</text>
<line x1="397.8" y1="332" x2="400.5" y2="332" stroke="#444" stroke-width="0.9"/>
<text x="396.9" y="335.6" text-anchor="end" font-family='"Liberation Sans", "DejaVu Sans", sans-serif' font-size="10" fill="#4d4d4d" stroke="#4d4d4d" stroke-width="0.15">0</text>
<line x1="397.8" y1="254.5" x2="400.5" y2="254.5" stroke="#444" stroke-width="0.9"/>
<text x="396.9" y="258.1" text-anchor="end" font-family='"Liberation Sans", "DejaVu Sans", sans-serif' font-size="10" fill="#4d4d4d" stroke="#4d4d4d" stroke-width="0.15">2</text>
<line x1="397.8" y1="177" x2="400.5" y2="177" stroke="#444" stroke-width="0.9"/>
<text x="396.9" y="180.6" text-anchor="end" font-family='"Liberation Sans", "DejaVu Sans", sans-serif' font-size="10" fill="#4d4d4d" stroke="#4d4d4d" stroke-width="0.15">4</text>
<line x1="397.8" y1="99.5" x2="400.5" y2="99.5" stroke="#444" stroke-width="0.9"/>
<text x="396.9" y="103.1" text-anchor="end" font-family='"Liberation Sans", "DejaVu Sans", sans-serif' font-size="10" fill="#4d4d4d" stroke="#4d4d4d" stroke-width="0.15">6</text>
<text x="542.5" y="366.1" text-anchor="middle" font-family='"Liberation Sans", "DejaVu Sans", sans-serif' font-size="12.3" fill="#000" stroke="#000" stroke-width="0.15">Value</text>
<text transform="translate(387.1,212) rotate(-90)" text-anchor="middle" font-family='"Liberation Sans", "DejaVu Sans", sans-serif' font-size="12.3" fill="#000" stroke="#000" stroke-width="0.15">Density</text>
<text x="469.4" y="365.4" text-anchor="middle" font-family='"DejaVu Sans", "Liberation Sans", sans-serif' font-size="14.4" fill="#ff0000" stroke="#ff0000" stroke-width="0.12">0.20</text>
<rect x="434.5" y="26.5" width="217" height="43" fill="#e9a3ab" stroke="#4a4a4a" stroke-width="1.1"/>
<text x="548.3" y="57.1" text-anchor="middle" font-family='"DejaVu Sans", "Liberation Sans", sans-serif' font-size="24.8" fill="#000" stroke="#000" stroke-width="0.35">TCGAclas</text>
<rect x="41.5" y="444.5" width="277" height="263" fill="#fff"/>
<line x1="85.06" y1="444.5" x2="85.06" y2="707.5" stroke="#f3f3f3" stroke-width="0.6"/>
<line x1="147.99" y1="444.5" x2="147.99" y2="707.5" stroke="#f3f3f3" stroke-width="0.6"/>
<line x1="210.91" y1="444.5" x2="210.91" y2="707.5" stroke="#f3f3f3" stroke-width="0.6"/>
<line x1="273.84" y1="444.5" x2="273.84" y2="707.5" stroke="#f3f3f3" stroke-width="0.6"/>
<line x1="53.6" y1="444.5" x2="53.6" y2="707.5" stroke="#ececec" stroke-width="1"/>
<line x1="116.53" y1="444.5" x2="116.53" y2="707.5" stroke="#ececec" stroke-width="1"/>
<line x1="179.45" y1="444.5" x2="179.45" y2="707.5" stroke="#ececec" stroke-width="1"/>
<line x1="242.37" y1="444.5" x2="242.37" y2="707.5" stroke="#ececec" stroke-width="1"/>
<line x1="305.3" y1="444.5" x2="305.3" y2="707.5" stroke="#ececec" stroke-width="1"/>
<line x1="41.5" y1="670.25" x2="318.5" y2="670.25" stroke="#f3f3f3" stroke-width="0.6"/>
<line x1="41.5" y1="618.15" x2="318.5" y2="618.15" stroke="#f3f3f3" stroke-width="0.6"/>
<line x1="41.5" y1="566.05" x2="318.5" y2="566.05" stroke="#f3f3f3" stroke-width="0.6"/>
<line x1="41.5" y1="513.95" x2="318.5" y2="513.95" stroke="#f3f3f3" stroke-width="0.6"/>
<line x1="41.5" y1="461.85" x2="318.5" y2="461.85" stroke="#f3f3f3" stroke-width="0.6"/>
<line x1="41.5" y1="696.3" x2="318.5" y2="696.3" stroke="#ececec" stroke-width="1"/>
<line x1="41.5" y1="644.2" x2="318.5" y2="644.2" stroke="#ececec" stroke-width="1"/>
<line x1="41.5" y1="592.1" x2="318.5" y2="592.1" stroke="#ececec" stroke-width="1"/>
<line x1="41.5" y1="540" x2="318.5" y2="540" stroke="#ececec" stroke-width="1"/>
<line x1="41.5" y1="487.9" x2="318.5" y2="487.9" stroke="#ececec" stroke-width="1"/>
<path d="M93.1,696.3C94.82,696.19 100.67,696.14 103.4,695.69C106.13,695.23 107.63,694.77 109.5,693.55C111.37,692.33 112.9,690.79 114.6,688.36C116.3,685.94 117.83,682.8 119.7,679.01C121.57,675.21 123.75,670.24 125.8,665.58C127.85,660.92 129.95,656.24 132,651.04C134.05,645.84 136.23,639.92 138.1,634.36C139.97,628.8 141.67,623.23 143.2,617.68C144.73,612.14 146.2,605.77 147.3,601.11C148.4,596.44 148.97,593.53 149.8,589.72C150.63,585.9 151.38,581.87 152.3,578.22C153.22,574.58 154.23,571.53 155.3,567.85C156.37,564.17 157.63,559.73 158.7,556.15C159.77,552.58 160.68,549.22 161.7,546.39C162.72,543.56 163.77,540.97 164.8,539.17C165.83,537.37 166.88,535.61 167.9,535.61C168.92,535.61 169.88,537.02 170.9,539.17C171.92,541.32 172.97,545.24 174,548.53C175.03,551.81 176.08,555.66 177.1,558.9C178.12,562.14 179.02,565.27 180.1,567.95C181.18,570.63 182.32,573.32 183.6,574.97C184.88,576.61 186.5,577.73 187.8,577.82C189.1,577.9 189.47,576.48 191.4,575.48C193.33,574.48 196.87,572.61 199.4,571.82C201.93,571.02 204.38,571.75 206.6,570.7C208.82,569.65 210.83,568.27 212.7,565.51C214.57,562.75 216.1,558.44 217.8,554.12C219.5,549.8 221.2,543.39 222.9,539.58C224.6,535.76 226.3,532.97 228,531.24C229.7,529.51 231.4,528.85 233.1,529.2C234.8,529.56 236.48,531.81 238.2,533.37C239.92,534.93 241.87,537.36 243.4,538.56C244.93,539.76 246.05,540.95 247.4,540.59C248.75,540.24 249.97,539.02 251.5,536.42C253.03,533.83 255.02,529.12 256.6,525.03C258.18,520.95 259.8,515.73 261,511.91C262.2,508.1 262.65,504.81 263.8,502.15C264.95,499.49 266.37,497.68 267.9,495.95C269.43,494.22 271.3,493.24 273,491.78C274.7,490.32 276.57,488.93 278.1,487.2C279.63,485.47 280.83,483.59 282.2,481.4C283.57,479.22 284.93,476 286.3,474.08C287.67,472.17 289.22,470.08 290.4,469.91C291.58,469.74 292.38,470.81 293.4,473.07C294.42,475.32 295.47,478.59 296.5,483.44C297.53,488.29 298.65,494.52 299.6,502.15C300.55,509.78 301.42,519.51 302.2,529.2C302.98,538.9 303.78,550.93 304.3,560.32C304.82,569.71 305.13,581.34 305.3,585.55L305.3,587.4C305.13,583.27 304.82,571.83 304.3,562.6C303.78,553.37 302.98,541.53 302.2,532C301.42,522.47 300.55,512.9 299.6,505.4C298.65,497.9 297.53,491.77 296.5,487C295.47,482.23 294.42,479.02 293.4,476.8C292.38,474.58 291.58,473.53 290.4,473.7C289.22,473.87 287.67,475.92 286.3,477.8C284.93,479.68 283.57,482.85 282.2,485C280.83,487.15 279.63,489 278.1,490.7C276.57,492.4 274.7,493.77 273,495.2C271.3,496.63 269.43,497.6 267.9,499.3C266.37,501 264.95,502.78 263.8,505.4C262.65,508.02 262.2,511.25 261,515C259.8,518.75 258.18,523.88 256.6,527.9C255.02,531.92 253.03,536.55 251.5,539.1C249.97,541.65 248.75,542.85 247.4,543.2C246.05,543.55 244.93,542.38 243.4,541.2C241.87,540.02 239.92,537.63 238.2,536.1C236.48,534.57 234.8,532.35 233.1,532C231.4,531.65 229.7,532.3 228,534C226.3,535.7 224.6,538.45 222.9,542.2C221.2,545.95 219.5,552.25 217.8,556.5C216.1,560.75 214.57,564.98 212.7,567.7C210.83,570.42 208.82,571.77 206.6,572.8C204.38,573.83 201.93,573.12 199.4,573.9C196.87,574.68 193.33,576.52 191.4,577.5C189.47,578.48 189.1,579.88 187.8,579.8C186.5,579.72 184.88,578.62 183.6,577C182.32,575.38 181.18,572.73 180.1,570.1C179.02,567.47 178.12,564.38 177.1,561.2C176.08,558.02 175.03,554.23 174,551C172.97,547.77 171.92,543.92 170.9,541.8C169.88,539.68 168.92,538.3 167.9,538.3C166.88,538.3 165.83,540.03 164.8,541.8C163.77,543.57 162.72,546.12 161.7,548.9C160.68,551.68 159.77,554.98 158.7,558.5C157.63,562.02 156.37,566.38 155.3,570C154.23,573.62 153.22,576.62 152.3,580.2C151.38,583.78 150.63,587.75 149.8,591.5C148.97,595.25 148.4,598.12 147.3,602.7C146.2,607.28 144.73,613.55 143.2,619C141.67,624.45 139.97,629.93 138.1,635.4C136.23,640.87 134.05,646.68 132,651.8C129.95,656.92 127.85,661.52 125.8,666.1C123.75,670.68 121.57,675.57 119.7,679.3C117.83,683.03 116.3,686.12 114.6,688.5C112.9,690.88 111.37,692.4 109.5,693.6C107.63,694.8 106.13,695.25 103.4,695.7C100.67,696.15 94.82,696.2 93.1,696.3Z" fill="#858585" fill-opacity="0.85" stroke="#858585" stroke-opacity="0.5" stroke-width="0.6"/>
<path d="M93.1,696.3C94.82,696.2 100.67,696.15 103.4,695.7C106.13,695.25 107.63,694.8 109.5,693.6C111.37,692.4 112.9,690.88 114.6,688.5C116.3,686.12 117.83,683.03 119.7,679.3C121.57,675.57 123.75,670.68 125.8,666.1C127.85,661.52 129.95,656.92 132,651.8C134.05,646.68 136.23,640.87 138.1,635.4C139.97,629.93 141.67,624.45 143.2,619C144.73,613.55 146.2,607.28 147.3,602.7C148.4,598.12 148.97,595.25 149.8,591.5C150.63,587.75 151.38,583.78 152.3,580.2C153.22,576.62 154.23,573.62 155.3,570C156.37,566.38 157.63,562.02 158.7,558.5C159.77,554.98 160.68,551.68 161.7,548.9C162.72,546.12 163.77,543.57 164.8,541.8C165.83,540.03 166.88,538.3 167.9,538.3C168.92,538.3 169.88,539.68 170.9,541.8C171.92,543.92 172.97,547.77 174,551C175.03,554.23 176.08,558.02 177.1,561.2C178.12,564.38 179.02,567.47 180.1,570.1C181.18,572.73 182.32,575.38 183.6,577C184.88,578.62 186.5,579.72 187.8,579.8C189.1,579.88 189.47,578.48 191.4,577.5C193.33,576.52 196.87,574.68 199.4,573.9C201.93,573.12 204.38,573.83 206.6,572.8C208.82,571.77 210.83,570.42 212.7,567.7C214.57,564.98 216.1,560.75 217.8,556.5C219.5,552.25 221.2,545.95 222.9,542.2C224.6,538.45 226.3,535.7 228,534C229.7,532.3 231.4,531.65 233.1,532C234.8,532.35 236.48,534.57 238.2,536.1C239.92,537.63 241.87,540.02 243.4,541.2C244.93,542.38 246.05,543.55 247.4,543.2C248.75,542.85 249.97,541.65 251.5,539.1C253.03,536.55 255.02,531.92 256.6,527.9C258.18,523.88 259.8,518.75 261,515C262.2,511.25 262.65,508.02 263.8,505.4C264.95,502.78 266.37,501 267.9,499.3C269.43,497.6 271.3,496.63 273,495.2C274.7,493.77 276.57,492.4 278.1,490.7C279.63,489 280.83,487.15 282.2,485C283.57,482.85 284.93,479.68 286.3,477.8C287.67,475.92 289.22,473.87 290.4,473.7C291.58,473.53 292.38,474.58 293.4,476.8C294.42,479.02 295.47,482.23 296.5,487C297.53,491.77 298.65,497.9 299.6,505.4C300.55,512.9 301.42,522.47 302.2,532C302.98,541.53 303.78,553.37 304.3,562.6C304.82,571.83 305.13,583.27 305.3,587.4L305.3,696.5 L93.1,696.5 Z" fill="#a3c9de" fill-opacity="0.7" stroke="none"/>
<path d="M93.1,696.3C94.82,696.2 100.67,696.15 103.4,695.7C106.13,695.25 107.63,694.8 109.5,693.6C111.37,692.4 112.9,690.88 114.6,688.5C116.3,686.12 117.83,683.03 119.7,679.3C121.57,675.57 123.75,670.68 125.8,666.1C127.85,661.52 129.95,656.92 132,651.8C134.05,646.68 136.23,640.87 138.1,635.4C139.97,629.93 141.67,624.45 143.2,619C144.73,613.55 146.2,607.28 147.3,602.7C148.4,598.12 148.97,595.25 149.8,591.5C150.63,587.75 151.38,583.78 152.3,580.2C153.22,576.62 154.23,573.62 155.3,570C156.37,566.38 157.63,562.02 158.7,558.5C159.77,554.98 160.68,551.68 161.7,548.9C162.72,546.12 163.77,543.57 164.8,541.8C165.83,540.03 166.88,538.3 167.9,538.3C168.92,538.3 169.88,539.68 170.9,541.8C171.92,543.92 172.97,547.77 174,551C175.03,554.23 176.08,558.02 177.1,561.2C178.12,564.38 179.02,567.47 180.1,570.1C181.18,572.73 182.32,575.38 183.6,577C184.88,578.62 186.5,579.72 187.8,579.8C189.1,579.88 189.47,578.48 191.4,577.5C193.33,576.52 196.87,574.68 199.4,573.9C201.93,573.12 204.38,573.83 206.6,572.8C208.82,571.77 210.83,570.42 212.7,567.7C214.57,564.98 216.1,560.75 217.8,556.5C219.5,552.25 221.2,545.95 222.9,542.2C224.6,538.45 226.3,535.7 228,534C229.7,532.3 231.4,531.65 233.1,532C234.8,532.35 236.48,534.57 238.2,536.1C239.92,537.63 241.87,540.02 243.4,541.2C244.93,542.38 246.05,543.55 247.4,543.2C248.75,542.85 249.97,541.65 251.5,539.1C253.03,536.55 255.02,531.92 256.6,527.9C258.18,523.88 259.8,518.75 261,515C262.2,511.25 262.65,508.02 263.8,505.4C264.95,502.78 266.37,501 267.9,499.3C269.43,497.6 271.3,496.63 273,495.2C274.7,493.77 276.57,492.4 278.1,490.7C279.63,489 280.83,487.15 282.2,485C283.57,482.85 284.93,479.68 286.3,477.8C287.67,475.92 289.22,473.87 290.4,473.7C291.58,473.53 292.38,474.58 293.4,476.8C294.42,479.02 295.47,482.23 296.5,487C297.53,491.77 298.65,497.9 299.6,505.4C300.55,512.9 301.42,522.47 302.2,532C302.98,541.53 303.78,553.37 304.3,562.6C304.82,571.83 305.13,583.27 305.3,587.4" fill="none" stroke="#2a2a2a" stroke-opacity="1.0" stroke-width="0.7" stroke-linejoin="round"/>
<path d="M93.1,696.3C94.82,696.19 100.67,696.14 103.4,695.69C106.13,695.23 107.63,694.77 109.5,693.55C111.37,692.33 112.9,690.79 114.6,688.36C116.3,685.94 117.83,682.8 119.7,679.01C121.57,675.21 123.75,670.24 125.8,665.58C127.85,660.92 129.95,656.24 132,651.04C134.05,645.84 136.23,639.92 138.1,634.36C139.97,628.8 141.67,623.23 143.2,617.68C144.73,612.14 146.2,605.77 147.3,601.11C148.4,596.44 148.97,593.53 149.8,589.72C150.63,585.9 151.38,581.87 152.3,578.22C153.22,574.58 154.23,571.53 155.3,567.85C156.37,564.17 157.63,559.83 158.7,556.15C159.77,552.48 160.68,548.71 161.7,545.78C162.72,542.85 163.77,540.36 164.8,538.56C165.83,536.76 166.88,535 167.9,535C168.92,535 169.88,536.41 170.9,538.56C171.92,540.71 172.97,544.63 174,547.92C175.03,551.2 176.08,555.05 177.1,558.29C178.12,561.53 179.02,564.66 180.1,567.34C181.18,570.02 182.32,572.71 183.6,574.36C184.88,576 186.5,577.12 187.8,577.21C189.1,577.29 189.95,576.12 191.4,574.87C192.85,573.61 194.8,570.88 196.5,569.68C198.2,568.48 199.9,568.05 201.6,567.65C203.3,567.24 205.17,568.1 206.7,567.24C208.23,566.37 209.43,564.82 210.8,562.46C212.17,560.1 213.57,556.58 214.9,553.1C216.23,549.63 217.47,545.78 218.8,541.61C220.13,537.44 221.53,531.9 222.9,528.08C224.27,524.27 225.63,520.69 227,518.73C228.37,516.76 229.73,516.29 231.1,516.29C232.47,516.29 233.83,517.27 235.2,518.73C236.57,520.19 237.93,523.12 239.3,525.03C240.67,526.95 242.05,528.92 243.4,530.22C244.75,531.53 246.05,532.86 247.4,532.86C248.75,532.86 250.13,531.88 251.5,530.22C252.87,528.56 254.23,525.85 255.6,522.9C256.97,519.95 258.47,514.95 259.7,512.52C260.93,510.1 261.63,509.32 263,508.36C264.37,507.39 265.72,507.42 267.9,506.73C270.08,506.03 273.72,505.12 276.1,504.19C278.48,503.25 280.33,502.07 282.2,501.13C284.07,500.2 285.93,498.95 287.3,498.59C288.67,498.24 289.38,497.71 290.4,499C291.42,500.29 292.38,502.68 293.4,506.32C294.42,509.97 295.47,514.98 296.5,520.86C297.53,526.75 298.65,534.34 299.6,541.61C300.55,548.88 301.53,558.43 302.2,564.49C302.87,570.56 303.08,572.44 303.6,578.02C304.12,583.6 305.02,594.63 305.3,597.95L305.3,599.6C305.02,596.33 304.12,585.48 303.6,580C303.08,574.52 302.87,572.67 302.2,566.7C301.53,560.73 300.55,551.35 299.6,544.2C298.65,537.05 297.53,529.58 296.5,523.8C295.47,518.02 294.42,513.08 293.4,509.5C292.38,505.92 291.42,503.57 290.4,502.3C289.38,501.03 288.67,501.55 287.3,501.9C285.93,502.25 284.07,503.48 282.2,504.4C280.33,505.32 278.48,506.48 276.1,507.4C273.72,508.32 270.08,509.22 267.9,509.9C265.72,510.58 264.37,510.55 263,511.5C261.63,512.45 260.93,513.22 259.7,515.6C258.47,517.98 256.97,522.9 255.6,525.8C254.23,528.7 252.87,531.37 251.5,533C250.13,534.63 248.75,535.6 247.4,535.6C246.05,535.6 244.75,534.28 243.4,533C242.05,531.72 240.67,529.78 239.3,527.9C237.93,526.02 236.57,523.13 235.2,521.7C233.83,520.27 232.47,519.3 231.1,519.3C229.73,519.3 228.37,519.77 227,521.7C225.63,523.63 224.27,527.15 222.9,530.9C221.53,534.65 220.13,540.1 218.8,544.2C217.47,548.3 216.23,552.08 214.9,555.5C213.57,558.92 212.17,562.38 210.8,564.7C209.43,567.02 208.23,568.55 206.7,569.4C205.17,570.25 203.3,569.4 201.6,569.8C199.9,570.2 198.2,570.62 196.5,571.8C194.8,572.98 192.85,575.67 191.4,576.9C189.95,578.13 189.1,579.28 187.8,579.2C186.5,579.12 184.88,578.02 183.6,576.4C182.32,574.78 181.18,572.13 180.1,569.5C179.02,566.87 178.12,563.78 177.1,560.6C176.08,557.42 175.03,553.63 174,550.4C172.97,547.17 171.92,543.32 170.9,541.2C169.88,539.08 168.92,537.7 167.9,537.7C166.88,537.7 165.83,539.43 164.8,541.2C163.77,542.97 162.72,545.42 161.7,548.3C160.68,551.18 159.77,554.88 158.7,558.5C157.63,562.12 156.37,566.38 155.3,570C154.23,573.62 153.22,576.62 152.3,580.2C151.38,583.78 150.63,587.75 149.8,591.5C148.97,595.25 148.4,598.12 147.3,602.7C146.2,607.28 144.73,613.55 143.2,619C141.67,624.45 139.97,629.93 138.1,635.4C136.23,640.87 134.05,646.68 132,651.8C129.95,656.92 127.85,661.52 125.8,666.1C123.75,670.68 121.57,675.57 119.7,679.3C117.83,683.03 116.3,686.12 114.6,688.5C112.9,690.88 111.37,692.4 109.5,693.6C107.63,694.8 106.13,695.25 103.4,695.7C100.67,696.15 94.82,696.2 93.1,696.3Z" fill="#858585" fill-opacity="0.85" stroke="#858585" stroke-opacity="0.5" stroke-width="0.6"/>
<path d="M93.1,696.3C94.82,696.2 100.67,696.15 103.4,695.7C106.13,695.25 107.63,694.8 109.5,693.6C111.37,692.4 112.9,690.88 114.6,688.5C116.3,686.12 117.83,683.03 119.7,679.3C121.57,675.57 123.75,670.68 125.8,666.1C127.85,661.52 129.95,656.92 132,651.8C134.05,646.68 136.23,640.87 138.1,635.4C139.97,629.93 141.67,624.45 143.2,619C144.73,613.55 146.2,607.28 147.3,602.7C148.4,598.12 148.97,595.25 149.8,591.5C150.63,587.75 151.38,583.78 152.3,580.2C153.22,576.62 154.23,573.62 155.3,570C156.37,566.38 157.63,562.12 158.7,558.5C159.77,554.88 160.68,551.18 161.7,548.3C162.72,545.42 163.77,542.97 164.8,541.2C165.83,539.43 166.88,537.7 167.9,537.7C168.92,537.7 169.88,539.08 170.9,541.2C171.92,543.32 172.97,547.17 174,550.4C175.03,553.63 176.08,557.42 177.1,560.6C178.12,563.78 179.02,566.87 180.1,569.5C181.18,572.13 182.32,574.78 183.6,576.4C184.88,578.02 186.5,579.12 187.8,579.2C189.1,579.28 189.95,578.13 191.4,576.9C192.85,575.67 194.8,572.98 196.5,571.8C198.2,570.62 199.9,570.2 201.6,569.8C203.3,569.4 205.17,570.25 206.7,569.4C208.23,568.55 209.43,567.02 210.8,564.7C212.17,562.38 213.57,558.92 214.9,555.5C216.23,552.08 217.47,548.3 218.8,544.2C220.13,540.1 221.53,534.65 222.9,530.9C224.27,527.15 225.63,523.63 227,521.7C228.37,519.77 229.73,519.3 231.1,519.3C232.47,519.3 233.83,520.27 235.2,521.7C236.57,523.13 237.93,526.02 239.3,527.9C240.67,529.78 242.05,531.72 243.4,533C244.75,534.28 246.05,535.6 247.4,535.6C248.75,535.6 250.13,534.63 251.5,533C252.87,531.37 254.23,528.7 255.6,525.8C256.97,522.9 258.47,517.98 259.7,515.6C260.93,513.22 261.63,512.45 263,511.5C264.37,510.55 265.72,510.58 267.9,509.9C270.08,509.22 273.72,508.32 276.1,507.4C278.48,506.48 280.33,505.32 282.2,504.4C284.07,503.48 285.93,502.25 287.3,501.9C288.67,501.55 289.38,501.03 290.4,502.3C291.42,503.57 292.38,505.92 293.4,509.5C294.42,513.08 295.47,518.02 296.5,523.8C297.53,529.58 298.65,537.05 299.6,544.2C300.55,551.35 301.53,560.73 302.2,566.7C302.87,572.67 303.08,574.52 303.6,580C304.12,585.48 305.02,596.33 305.3,599.6L305.3,696.5 L93.1,696.5 Z" fill="#6e8a9a" fill-opacity="0.7" stroke="none"/>
<path d="M93.1,696.3C94.82,696.2 100.67,696.15 103.4,695.7C106.13,695.25 107.63,694.8 109.5,693.6C111.37,692.4 112.9,690.88 114.6,688.5C116.3,686.12 117.83,683.03 119.7,679.3C121.57,675.57 123.75,670.68 125.8,666.1C127.85,661.52 129.95,656.92 132,651.8C134.05,646.68 136.23,640.87 138.1,635.4C139.97,629.93 141.67,624.45 143.2,619C144.73,613.55 146.2,607.28 147.3,602.7C148.4,598.12 148.97,595.25 149.8,591.5C150.63,587.75 151.38,583.78 152.3,580.2C153.22,576.62 154.23,573.62 155.3,570C156.37,566.38 157.63,562.12 158.7,558.5C159.77,554.88 160.68,551.18 161.7,548.3C162.72,545.42 163.77,542.97 164.8,541.2C165.83,539.43 166.88,537.7 167.9,537.7C168.92,537.7 169.88,539.08 170.9,541.2C171.92,543.32 172.97,547.17 174,550.4C175.03,553.63 176.08,557.42 177.1,560.6C178.12,563.78 179.02,566.87 180.1,569.5C181.18,572.13 182.32,574.78 183.6,576.4C184.88,578.02 186.5,579.12 187.8,579.2C189.1,579.28 189.95,578.13 191.4,576.9C192.85,575.67 194.8,572.98 196.5,571.8C198.2,570.62 199.9,570.2 201.6,569.8C203.3,569.4 205.17,570.25 206.7,569.4C208.23,568.55 209.43,567.02 210.8,564.7C212.17,562.38 213.57,558.92 214.9,555.5C216.23,552.08 217.47,548.3 218.8,544.2C220.13,540.1 221.53,534.65 222.9,530.9C224.27,527.15 225.63,523.63 227,521.7C228.37,519.77 229.73,519.3 231.1,519.3C232.47,519.3 233.83,520.27 235.2,521.7C236.57,523.13 237.93,526.02 239.3,527.9C240.67,529.78 242.05,531.72 243.4,533C244.75,534.28 246.05,535.6 247.4,535.6C248.75,535.6 250.13,534.63 251.5,533C252.87,531.37 254.23,528.7 255.6,525.8C256.97,522.9 258.47,517.98 259.7,515.6C260.93,513.22 261.63,512.45 263,511.5C264.37,510.55 265.72,510.58 267.9,509.9C270.08,509.22 273.72,508.32 276.1,507.4C278.48,506.48 280.33,505.32 282.2,504.4C284.07,503.48 285.93,502.25 287.3,501.9C288.67,501.55 289.38,501.03 290.4,502.3C291.42,503.57 292.38,505.92 293.4,509.5C294.42,513.08 295.47,518.02 296.5,523.8C297.53,529.58 298.65,537.05 299.6,544.2C300.55,551.35 301.53,560.73 302.2,566.7C302.87,572.67 303.08,574.52 303.6,580C304.12,585.48 305.02,596.33 305.3,599.6" fill="none" stroke="#2a2a2a" stroke-opacity="1.0" stroke-width="0.7" stroke-linejoin="round"/>
<line x1="156.4" y1="444.5" x2="156.4" y2="707.5" stroke="#ff0000" stroke-width="2.3" stroke-dasharray="5.8,2.27"/>
<rect x="41.5" y="444.5" width="277" height="263" fill="none" stroke="#444" stroke-width="1"/>
<line x1="42" y1="444.5" x2="318" y2="444.5" stroke="#c4c4c4" stroke-width="1.4"/>
<line x1="53.6" y1="707.5" x2="53.6" y2="710.2" stroke="#444" stroke-width="0.9"/>
<text x="53.6" y="718.6" text-anchor="middle" font-family='"Liberation Sans", "DejaVu Sans", sans-serif' font-size="10" fill="#4d4d4d" stroke="#4d4d4d" stroke-width="0.15">0.00</text>
<line x1="116.53" y1="707.5" x2="116.53" y2="710.2" stroke="#444" stroke-width="0.9"/>
<text x="116.53" y="718.6" text-anchor="middle" font-family='"Liberation Sans", "DejaVu Sans", sans-serif' font-size="10" fill="#4d4d4d" stroke="#4d4d4d" stroke-width="0.15">0.25</text>
<line x1="179.45" y1="707.5" x2="179.45" y2="710.2" stroke="#444" stroke-width="0.9"/>
<text x="179.45" y="718.6" text-anchor="middle" font-family='"Liberation Sans", "DejaVu Sans", sans-serif' font-size="10" fill="#4d4d4d" stroke="#4d4d4d" stroke-width="0.15">0.50</text>
<line x1="242.37" y1="707.5" x2="242.37" y2="710.2" stroke="#444" stroke-width="0.9"/>
<text x="242.37" y="718.6" text-anchor="middle" font-family='"Liberation Sans", "DejaVu Sans", sans-serif' font-size="10" fill="#4d4d4d" stroke="#4d4d4d" stroke-width="0.15">0.75</text>
<line x1="305.3" y1="707.5" x2="305.3" y2="710.2" stroke="#444" stroke-width="0.9"/>
<text x="305.3" y="718.6" text-anchor="middle" font-family='"Liberation Sans", "DejaVu Sans", sans-serif' font-size="10" fill="#4d4d4d" stroke="#4d4d4d" stroke-width="0.15">1.00</text>
<line x1="38.8" y1="696.3" x2="41.5" y2="696.3" stroke="#444" stroke-width="0.9"/>
<text x="37.9" y="699.9" text-anchor="end" font-family='"Liberation Sans", "DejaVu Sans", sans-serif' font-size="10" fill="#4d4d4d" stroke="#4d4d4d" stroke-width="0.15">0.0</text>
<line x1="38.8" y1="644.2" x2="41.5" y2="644.2" stroke="#444" stroke-width="0.9"/>
<text x="37.9" y="647.8" text-anchor="end" font-family='"Liberation Sans", "DejaVu Sans", sans-serif' font-size="10" fill="#4d4d4d" stroke="#4d4d4d" stroke-width="0.15">0.5</text>
<line x1="38.8" y1="592.1" x2="41.5" y2="592.1" stroke="#444" stroke-width="0.9"/>
<text x="37.9" y="595.7" text-anchor="end" font-family='"Liberation Sans", "DejaVu Sans", sans-serif' font-size="10" fill="#4d4d4d" stroke="#4d4d4d" stroke-width="0.15">1.0</text>
<line x1="38.8" y1="540" x2="41.5" y2="540" stroke="#444" stroke-width="0.9"/>
<text x="37.9" y="543.6" text-anchor="end" font-family='"Liberation Sans", "DejaVu Sans", sans-serif' font-size="10" fill="#4d4d4d" stroke="#4d4d4d" stroke-width="0.15">1.5</text>
<line x1="38.8" y1="487.9" x2="41.5" y2="487.9" stroke="#444" stroke-width="0.9"/>
<text x="37.9" y="491.5" text-anchor="end" font-family='"Liberation Sans", "DejaVu Sans", sans-serif' font-size="10" fill="#4d4d4d" stroke="#4d4d4d" stroke-width="0.15">2.0</text>
<text x="180" y="731.5" text-anchor="middle" font-family='"Liberation Sans", "DejaVu Sans", sans-serif' font-size="12.3" fill="#000" stroke="#000" stroke-width="0.15">Value</text>
<text transform="translate(20.1,576) rotate(-90)" text-anchor="middle" font-family='"Liberation Sans", "DejaVu Sans", sans-serif' font-size="12.3" fill="#000" stroke="#000" stroke-width="0.15">Density</text>
<text x="154.5" y="721.5" text-anchor="middle" font-family='"DejaVu Sans", "Liberation Sans", sans-serif' font-size="14.4" fill="#ff0000" stroke="#ff0000" stroke-width="0.12">0.40</text>
<rect x="68.6" y="388.3" width="217.4" height="42.6" fill="#a0c6d9" stroke="#111" stroke-width="1.1"/>
<text x="182.6" y="416.1" text-anchor="middle" font-family='"DejaVu Sans", "Liberation Sans", sans-serif' font-size="24.8" fill="#000" stroke="#000" stroke-width="0.35">LundTax</text>
<rect x="439.2" y="490.9" width="15.5" height="15.6" rx="0.8" fill="#ebd98b" stroke="#1c1c1c" stroke-width="1.05"/>
<text x="459.4" y="503.9" font-family='"DejaVu Sans", "Liberation Sans", sans-serif' font-size="16.85" fill="#000" stroke="#000" stroke-width="0.35">Log-transformed</text>
<rect x="439.2" y="511.4" width="15.5" height="15.6" rx="0.8" fill="#a3975f" stroke="#1c1c1c" stroke-width="1.05"/>
<text x="459.4" y="524.5" font-family='"DejaVu Sans", "Liberation Sans", sans-serif' font-size="16.85" fill="#000" stroke="#000" stroke-width="0.35">Non log-transformed</text>
<rect x="439.2" y="531.7" width="15.5" height="15.6" rx="0.8" fill="#e38a94" stroke="#1c1c1c" stroke-width="1.05"/>
<text x="459.4" y="544.7" font-family='"DejaVu Sans", "Liberation Sans", sans-serif' font-size="16.85" fill="#000" stroke="#000" stroke-width="0.35">Log-transformed</text>
<rect x="439.2" y="552" width="15.5" height="15.6" rx="0.8" fill="#9e5b63" stroke="#1c1c1c" stroke-width="1.05"/>
<text x="459.4" y="565" font-family='"DejaVu Sans", "Liberation Sans", sans-serif' font-size="16.85" fill="#000" stroke="#000" stroke-width="0.35">Non log-transformed</text>
<rect x="439.2" y="574.1" width="15.5" height="15.6" rx="0.8" fill="#a3c9de" stroke="#1c1c1c" stroke-width="1.05"/>
<text x="459.4" y="587.4" font-family='"DejaVu Sans", "Liberation Sans", sans-serif' font-size="16.85" fill="#000" stroke="#000" stroke-width="0.35">Log-transformed</text>
<rect x="439.2" y="595.3" width="15.5" height="15.6" rx="0.8" fill="#6e8a9a" stroke="#1c1c1c" stroke-width="1.05"/>
<text x="459.4" y="608.3" font-family='"DejaVu Sans", "Liberation Sans", sans-serif' font-size="16.85" fill="#000" stroke="#000" stroke-width="0.35">Non log-transformed</text>
<text x="1.2" y="27.8" font-family='"DejaVu Sans", "Liberation Sans", sans-serif' font-size="37.2" fill="#000" stroke="#000" stroke-width="0.5">A</text>
<text x="-4.6" y="760.1" font-family='"DejaVu Sans", "Liberation Sans", sans-serif' font-size="37.2" fill="#000" stroke="#000" stroke-width="0.5">B</text>
<line x1="433.26" y1="778.04" x2="472.58" y2="973.55" stroke="#e76f51" stroke-width="2.9" stroke-linecap="round"/>
<line x1="466.57" y1="972.53" x2="539.73" y2="830.23" stroke="#e76f51" stroke-width="3.7" stroke-linecap="round"/>
<line x1="309.22" y1="955.76" x2="463.63" y2="978.49" stroke="#e76f51" stroke-width="1.7" stroke-linecap="round"/>
<line x1="308.08" y1="1174.81" x2="459.37" y2="979.26" stroke="#e76f51" stroke-width="4.27" stroke-linecap="round"/>
<line x1="429.45" y1="782.36" x2="539.17" y2="832.1" stroke="#f4a261" stroke-width="12.75" stroke-linecap="round"/>
<line x1="477.02" y1="977.9" x2="550.18" y2="835.61" stroke="#f4a261" stroke-width="17.6" stroke-linecap="round"/>
<line x1="307.14" y1="950.25" x2="540.78" y2="827.66" stroke="#f4a261" stroke-width="4.4" stroke-linecap="round"/>
<line x1="424.14" y1="779.87" x2="463.46" y2="975.39" stroke="#e9c46a" stroke-width="15.1" stroke-linecap="round"/>
<line x1="434.1" y1="772.1" x2="543.82" y2="821.85" stroke="#e9c46a" stroke-width="7.4" stroke-linecap="round"/>
<line x1="306.92" y1="951.09" x2="424.5" y2="778.22" stroke="#e9c46a" stroke-width="6.6" stroke-linecap="round"/>
<line x1="300.52" y1="946.74" x2="418.1" y2="773.87" stroke="#8ab17d" stroke-width="6.6" stroke-linecap="round"/>
<line x1="309.02" y1="953.83" x2="542.66" y2="831.25" stroke="#8ab17d" stroke-width="1.8" stroke-linecap="round"/>
<line x1="308.59" y1="960.05" x2="463" y2="982.77" stroke="#8ab17d" stroke-width="5.05" stroke-linecap="round"/>
<line x1="305.72" y1="960.84" x2="312.58" y2="1178.45" stroke="#8ab17d" stroke-width="9.5" stroke-linecap="round"/>
<line x1="312.8" y1="1178.47" x2="464.09" y2="982.91" stroke="#2a9d8f" stroke-width="3.4" stroke-linecap="round"/>
<line x1="298.07" y1="961.08" x2="304.93" y2="1178.69" stroke="#2a9d8f" stroke-width="3.45" stroke-linecap="round"/>
<line x1="134.12" y1="1194.84" x2="305.73" y2="1186.75" stroke="#2a9d8f" stroke-width="7.25" stroke-linecap="round"/>
<line x1="129.48" y1="1186.43" x2="298.26" y2="958.12" stroke="#264653" stroke-width="6.2" stroke-linecap="round"/>
<line x1="133.88" y1="1189.75" x2="305.49" y2="1181.66" stroke="#264653" stroke-width="1.4" stroke-linecap="round"/>
<circle cx="427.45" cy="773.7" r="9.9" fill="#e9c46a" stroke="#000" stroke-width="1.45"/>
<circle cx="547" cy="827.9" r="15.3" fill="#f4a261" stroke="#000" stroke-width="1.45"/>
<circle cx="468.9" cy="979.8" r="67.9" fill="#e76f51" stroke="#000" stroke-width="1.45"/>
<circle cx="303.8" cy="955.5" r="15.3" fill="#8ab17d" stroke="#000" stroke-width="1.45"/>
<circle cx="311" cy="1183.9" r="85.2" fill="#2a9d8f" stroke="#000" stroke-width="1.45"/>
<circle cx="128.6" cy="1192.5" r="2.5" fill="#264653" stroke="#000" stroke-width="1.45"/>
<text transform="translate(349.5,849.2) rotate(-55.78)" y="5.84" text-anchor="middle" font-family='"DejaVu Sans", "Liberation Sans", sans-serif' font-size="16.0" fill="#8ab17d" stroke="#8ab17d" stroke-width="0.3">4.56%</text>
<text transform="translate(376.8,869.6) rotate(-55.78)" y="5.84" text-anchor="middle" font-family='"DejaVu Sans", "Liberation Sans", sans-serif' font-size="16.0" fill="#e9c46a" stroke="#e9c46a" stroke-width="0.3">4.64%</text>
<text transform="translate(496.4,785.4) rotate(24.39)" y="5.84" text-anchor="middle" font-family='"DejaVu Sans", "Liberation Sans", sans-serif' font-size="16.0" fill="#e9c46a" stroke="#e9c46a" stroke-width="0.3">5.88%</text>
<text transform="translate(486.4,824.8) rotate(24.39)" y="5.84" text-anchor="middle" font-family='"DejaVu Sans", "Liberation Sans", sans-serif' font-size="16.0" fill="#f4a261" stroke="#f4a261" stroke-width="0.3">9.54%</text>
<text transform="translate(419,848) rotate(78.63)" y="5.84" text-anchor="middle" font-family='"DejaVu Sans", "Liberation Sans", sans-serif' font-size="16.0" fill="#e9c46a" stroke="#e9c46a" stroke-width="0.3">11.4%</text>
<text transform="translate(456.1,839.7) rotate(78.63)" y="5.84" text-anchor="middle" font-family='"DejaVu Sans", "Liberation Sans", sans-serif' font-size="16.0" fill="#e76f51" stroke="#e76f51" stroke-width="0.3">2.16%</text>
<text transform="translate(499.5,883) rotate(-62.79)" y="5.84" text-anchor="middle" font-family='"DejaVu Sans", "Liberation Sans", sans-serif' font-size="16.0" fill="#e76f51" stroke="#e76f51" stroke-width="0.3">2.71%</text>
<text transform="translate(552.6,873.5) rotate(-62.79)" y="5.84" text-anchor="middle" font-family='"DejaVu Sans", "Liberation Sans", sans-serif' font-size="16.0" fill="#f4a261" stroke="#f4a261" stroke-width="0.3">13.2%</text>
<text transform="translate(383.3,898.1) rotate(-27.68)" y="5.84" text-anchor="middle" font-family='"DejaVu Sans", "Liberation Sans", sans-serif' font-size="16.0" fill="#f4a261" stroke="#f4a261" stroke-width="0.3">2.93%</text>
<text transform="translate(394.4,920.5) rotate(-27.68)" y="5.84" text-anchor="middle" font-family='"DejaVu Sans", "Liberation Sans", sans-serif' font-size="16.0" fill="#8ab17d" stroke="#8ab17d" stroke-width="0.3">1.16%</text>
<text transform="translate(368.2,954.8) rotate(8.37)" y="5.84" text-anchor="middle" font-family='"DejaVu Sans", "Liberation Sans", sans-serif' font-size="16.0" fill="#e76f51" stroke="#e76f51" stroke-width="0.3">1.03%</text>
<text transform="translate(363.4,980.6) rotate(8.37)" y="5.84" text-anchor="middle" font-family='"DejaVu Sans", "Liberation Sans", sans-serif' font-size="16.0" fill="#8ab17d" stroke="#8ab17d" stroke-width="0.3">3.75%</text>
<text transform="translate(289.2,1038.8) rotate(88.19)" y="5.84" text-anchor="middle" font-family='"DejaVu Sans", "Liberation Sans", sans-serif' font-size="16.0" fill="#2a9d8f" stroke="#2a9d8f" stroke-width="0.3">2.44%</text>
<text transform="translate(322.5,1037) rotate(88.19)" y="5.84" text-anchor="middle" font-family='"DejaVu Sans", "Liberation Sans", sans-serif' font-size="16.0" fill="#8ab17d" stroke="#8ab17d" stroke-width="0.3">7.22%</text>
<text transform="translate(381.4,1063.3) rotate(-52.27)" y="5.84" text-anchor="middle" font-family='"DejaVu Sans", "Liberation Sans", sans-serif' font-size="16.0" fill="#e76f51" stroke="#e76f51" stroke-width="0.3">3.05%</text>
<text transform="translate(403.2,1083) rotate(-52.27)" y="5.84" text-anchor="middle" font-family='"DejaVu Sans", "Liberation Sans", sans-serif' font-size="16.0" fill="#2a9d8f" stroke="#2a9d8f" stroke-width="0.3">2.52%</text>
<text transform="translate(152,1138) rotate(-53.53)" y="5.84" text-anchor="middle" font-family='"DejaVu Sans", "Liberation Sans", sans-serif' font-size="16.0" fill="#264653" stroke="#264653" stroke-width="0.3">4.74%</text>
<text transform="translate(181,1178.8) rotate(-2.7)" y="5.84" text-anchor="middle" font-family='"DejaVu Sans", "Liberation Sans", sans-serif' font-size="16.0" fill="#264653" stroke="#264653" stroke-width="0.3">1%</text>
<text transform="translate(181.6,1207.2) rotate(-2.7)" y="5.84" text-anchor="middle" font-family='"DejaVu Sans", "Liberation Sans", sans-serif' font-size="16.0" fill="#2a9d8f" stroke="#2a9d8f" stroke-width="0.3">5.60%</text>
<text x="425.5" y="733.3" text-anchor="middle" font-family='"DejaVu Sans", "Liberation Sans", sans-serif' font-size="19.0" fill="#000" stroke="#000" stroke-width="0.35">LumNS</text>
<text x="425.5" y="751.7" text-anchor="middle" font-family='"DejaVu Sans", "Liberation Sans", sans-serif' font-size="19.0" fill="#000" stroke="#000" stroke-width="0.35">n=969</text>
<text x="589.8" y="786.8" text-anchor="middle" font-family='"DejaVu Sans", "Liberation Sans", sans-serif' font-size="19.0" fill="#000" stroke="#000" stroke-width="0.35">LumU</text>
<text x="589.8" y="805.9" text-anchor="middle" font-family='"DejaVu Sans", "Liberation Sans", sans-serif' font-size="19.0" fill="#000" stroke="#000" stroke-width="0.35">n=1468</text>
<text x="576.8" y="959.9" text-anchor="middle" font-family='"DejaVu Sans", "Liberation Sans", sans-serif' font-size="19.0" fill="#000" stroke="#000" stroke-width="0.35">LumP</text>
<text x="576.8" y="978.8" text-anchor="middle" font-family='"DejaVu Sans", "Liberation Sans", sans-serif' font-size="19.0" fill="#000" stroke="#000" stroke-width="0.35">n=6485</text>
<text x="257" y="917.2" text-anchor="middle" font-family='"DejaVu Sans", "Liberation Sans", sans-serif' font-size="19.0" fill="#000" stroke="#000" stroke-width="0.35">Stroma-rich</text>
<text x="257" y="935.1" text-anchor="middle" font-family='"DejaVu Sans", "Liberation Sans", sans-serif' font-size="19.0" fill="#000" stroke="#000" stroke-width="0.35">n=1468</text>
<text x="434.9" y="1211" text-anchor="middle" font-family='"DejaVu Sans", "Liberation Sans", sans-serif' font-size="19.0" fill="#000" stroke="#000" stroke-width="0.35">Ba/Sq</text>
<text x="434.9" y="1230.3" text-anchor="middle" font-family='"DejaVu Sans", "Liberation Sans", sans-serif' font-size="19.0" fill="#000" stroke="#000" stroke-width="0.35">n=8127</text>
<text x="92.8" y="1164.2" text-anchor="middle" font-family='"DejaVu Sans", "Liberation Sans", sans-serif' font-size="19.0" fill="#000" stroke="#000" stroke-width="0.35">NE-like</text>
<text x="92.8" y="1182.6" text-anchor="middle" font-family='"DejaVu Sans", "Liberation Sans", sans-serif' font-size="19.0" fill="#000" stroke="#000" stroke-width="0.35">n=232</text>
<rect x="358.8" y="755.2" width="53.8" height="21.6" rx="1.5" fill="none" stroke="#e9c46a" stroke-width="1.9" stroke-dasharray="4.3,2.3"/>
<text x="386.6" y="772" text-anchor="middle" font-family='"DejaVu Sans", "Liberation Sans", sans-serif' font-size="15.9" fill="#e9c46a" stroke="#e9c46a" stroke-width="0.3">77.5%</text>
<rect x="564.9" y="822.5" width="54.1" height="21.4" rx="1.5" fill="none" stroke="#f4a261" stroke-width="1.9" stroke-dasharray="4.3,2.3"/>
<text x="592.85" y="838.7" text-anchor="middle" font-family='"DejaVu Sans", "Liberation Sans", sans-serif' font-size="15.9" fill="#f4a261" stroke="#f4a261" stroke-width="0.3">73.9%</text>
<rect x="540.5" y="987.9" width="53.9" height="21.7" rx="1.5" fill="none" stroke="#e76f51" stroke-width="1.9" stroke-dasharray="4.3,2.3"/>
<text x="568.35" y="1005.6" text-anchor="middle" font-family='"DejaVu Sans", "Liberation Sans", sans-serif' font-size="15.9" fill="#e76f51" stroke="#e76f51" stroke-width="0.3">90.3%</text>
<rect x="225.5" y="942" width="56.3" height="21.1" rx="1.5" fill="none" stroke="#8ab17d" stroke-width="1.9" stroke-dasharray="4.3,2.3"/>
<text x="254.55" y="959.2" text-anchor="middle" font-family='"DejaVu Sans", "Liberation Sans", sans-serif' font-size="15.9" fill="#8ab17d" stroke="#8ab17d" stroke-width="0.3">83.2%</text>
<rect x="377.8" y="1236.8" width="55.2" height="22.1" rx="1.5" fill="none" stroke="#2a9d8f" stroke-width="1.9" stroke-dasharray="4.3,2.3"/>
<text x="406.3" y="1254.5" text-anchor="middle" font-family='"DejaVu Sans", "Liberation Sans", sans-serif' font-size="15.9" fill="#2a9d8f" stroke="#2a9d8f" stroke-width="0.3">93.8%</text>
<rect x="64.8" y="1189.9" width="57.8" height="21.6" rx="1.5" fill="none" stroke="#264653" stroke-width="1.9" stroke-dasharray="4.3,2.3"/>
<text x="94.6" y="1207.7" text-anchor="middle" font-family='"DejaVu Sans", "Liberation Sans", sans-serif' font-size="15.9" fill="#264653" stroke="#264653" stroke-width="0.3">89.7%</text>
</svg>
</body>
</html>
